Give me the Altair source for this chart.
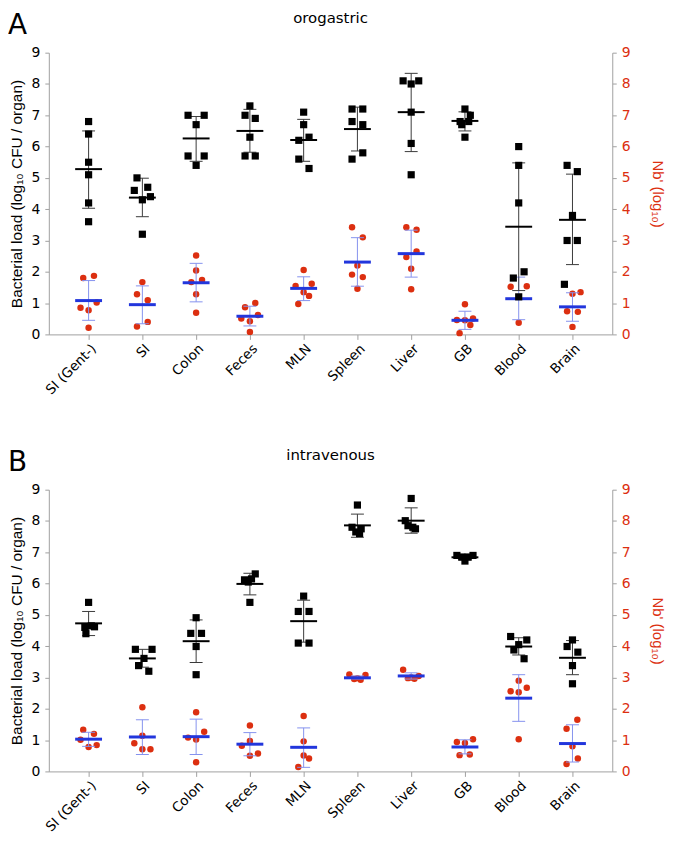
import altair as alt
import pandas as pd

categories = ["SI (Gent-)", "SI", "Colon", "Feces", "MLN", "Spleen", "Liver", "GB", "Blood", "Brain"]
y_ticks = list(range(10))

# ---------------- Panel A: orogastric ----------------
a_title = "orogastric"
a_load = [
    [6.8, 6.4, 5.5, 5.1, 4.2, 3.6],
    [5.0, 4.6, 4.7, 4.3, 4.4, 3.2],
    [7.0, 7.0, 6.7, 5.7, 5.7, 5.4],
    [7.3, 7.0, 6.9, 6.3, 5.7, 5.7],
    [7.1, 6.7, 6.2, 6.3, 5.6, 5.3],
    [7.2, 7.2, 6.8, 6.7, 5.8, 5.6],
    [8.1, 8.0, 8.1, 7.1, 6.1, 5.1],
    [7.2, 7.0, 6.8, 6.8, 6.7, 6.3],
    [6.0, 5.4, 4.2, 2.0, 1.8, 1.2],
    [5.4, 5.2, 3.8, 3.0, 3.0, 1.6],
]
a_load_jitter = [
    [0, 0, 0, 0, 0, 0],
    [-0.1, -0.15, 0.1, 0, 0.15, 0],
    [-0.15, 0.15, 0, -0.15, 0.15, 0],
    [0, -0.09, 0.1, 0, -0.09, 0.1],
    [0, 0, -0.09, 0.1, -0.09, 0.1],
    [-0.1, 0.1, -0.1, 0.1, 0.1, -0.1],
    [-0.15, 0, 0.14, 0, 0, 0],
    [0, 0.1, -0.09, 0.07, -0.06, 0],
    [0, 0, 0, 0.1, -0.1, 0],
    [-0.1, 0.09, 0, -0.1, 0.09, -0.15],
]
a_load_mean = [5.28, 4.37, 6.26, 6.50, 6.21, 6.56, 7.10, 6.82, 3.44, 3.66]
a_load_lo = [4.03, 3.76, 5.53, 5.82, 5.53, 5.86, 5.84, 6.50, 1.40, 2.23]
a_load_hi = [6.50, 4.99, 6.96, 7.19, 6.87, 7.26, 8.34, 7.11, 5.48, 5.12]

a_nb = [
    [1.80, 1.87, 0.85, 0.77, 1.02, 0.21],
    [1.67, 1.28, 1.09, 0.40, 0.25],
    [2.52, 2.04, 1.67, 1.74, 1.28, 0.69],
    [0.87, 1.00, 0.51, 0.42, 0.62, 0.08],
    [2.06, 1.55, 1.62, 1.35, 1.23, 0.97],
    [3.42, 3.10, 2.20, 1.91, 1.83, 1.46],
    [3.42, 3.34, 2.65, 2.47, 2.10, 1.44],
    [0.96, 0.46, 0.45, 0.51, 0.30, 0.04],
    [1.52, 1.54, 0.37],
    [1.30, 1.35, 0.74, 0.72, 0.24],
]
a_nb_jitter = [
    [-0.1, 0.1, -0.15, 0, 0.15, 0],
    [0, -0.1, 0.1, 0.1, -0.1],
    [0, 0, -0.09, 0.11, 0, 0],
    [-0.09, 0.1, -0.16, 0, 0.15, 0],
    [0, -0.15, 0.15, 0, 0.1, -0.1],
    [-0.1, 0.1, 0, -0.1, 0.1, 0],
    [-0.09, 0.1, 0.1, -0.09, 0, 0],
    [0, -0.15, 0, 0.15, 0.1, -0.1],
    [-0.15, 0.15, 0],
    [0, 0.15, -0.1, 0.1, 0],
]
a_nb_mean = [1.08, 0.95, 1.65, 0.58, 1.47, 2.31, 2.58, 0.45, 1.14, 0.88]
a_nb_lo = [0.45, 0.34, 1.04, 0.27, 1.08, 1.54, 1.83, 0.16, 0.47, 0.42]
a_nb_hi = [1.72, 1.55, 2.27, 0.90, 1.84, 3.09, 3.33, 0.74, 1.83, 1.33]

# ---------------- Panel B: intravenous ----------------
b_title = "intravenous"
b_load = [
    [5.40, 4.60, 4.62, 4.40, 4.65],
    [3.90, 3.90, 3.61, 3.38, 3.20],
    [4.91, 4.41, 4.41, 3.99, 3.09],
    [6.31, 6.12, 6.15, 6.05, 5.40],
    [5.60, 5.11, 5.11, 4.10, 4.10],
    [8.51, 7.80, 7.75, 7.60, 7.65],
    [8.72, 8.01, 7.85, 7.75, 7.80],
    [6.90, 6.90, 6.85, 6.85, 6.72],
    [4.31, 4.20, 4.05, 3.88, 3.60],
    [4.20, 3.99, 3.81, 3.38, 2.80],
]
b_load_jitter = [
    [0, -0.07, 0.11, -0.05, 0.05],
    [-0.13, 0.18, 0.03, -0.07, 0.12],
    [0, -0.1, 0.1, 0, 0],
    [0.1, -0.1, 0.03, -0.03, 0],
    [0, -0.1, 0.1, -0.1, 0.1],
    [0, -0.1, 0.07, 0.04, -0.03],
    [0, -0.11, -0.06, 0.08, 0.03],
    [-0.15, 0.15, -0.06, 0.06, 0],
    [-0.15, 0.15, 0, -0.09, 0.1],
    [0, -0.1, 0.1, 0, 0],
]
b_load_mean = [4.73, 3.61, 4.16, 5.99, 4.80, 7.86, 8.01, 6.84, 3.99, 3.63]
b_load_lo = [4.34, 3.33, 3.48, 5.64, 4.13, 7.48, 7.61, 6.75, 3.72, 3.09]
b_load_hi = [5.11, 3.90, 4.84, 6.33, 5.47, 8.22, 8.42, 6.93, 4.27, 4.18]

b_nb = [
    [1.33, 1.20, 1.01, 0.78, 0.84],
    [2.05, 1.14, 0.90, 0.71, 0.71],
    [1.89, 1.27, 1.08, 1.02, 0.29],
    [1.47, 0.97, 0.82, 0.57, 0.50],
    [1.77, 0.96, 0.51, 0.41, 0.14],
    [3.10, 3.08, 2.95, 2.93, 2.98],
    [3.25, 3.05, 2.98, 2.96, 3.00],
    [0.94, 0.91, 1.03, 0.52, 0.54],
    [2.90, 2.56, 2.53, 2.67, 1.03],
    [1.65, 1.36, 0.80, 0.41, 0.24],
]
b_nb_jitter = [
    [-0.1, 0.1, -0.15, 0, 0.15],
    [0, 0, -0.15, 0, 0.15],
    [0, 0.15, -0.15, 0, 0],
    [0, 0, -0.15, 0.15, 0],
    [0, 0, 0, 0.1, -0.1],
    [-0.15, 0.15, -0.06, 0.06, 0],
    [-0.15, 0.14, -0.06, 0.06, 0],
    [-0.15, 0, 0.15, -0.1, 0.09],
    [0, -0.15, 0, 0.15, 0],
    [0.09, -0.11, 0, 0.1, -0.11],
]
b_nb_mean = [1.03, 1.10, 1.11, 0.87, 0.77, 2.99, 3.05, 0.78, 2.34, 0.89]
b_nb_lo = [0.80, 0.54, 0.54, 0.50, 0.13, 2.95, 2.95, 0.56, 1.60, 0.30]
b_nb_hi = [1.25, 1.65, 1.67, 1.24, 1.39, 3.05, 3.15, 1.01, 3.09, 1.49]

WIDE = "DejaVu Sans"
ARIAL = "Liberation Sans"
RED = "#dc2f10"
BLUE = "#2236dc"
LIGHT_BLUE = "#8592ee"
AXIS_GRAY = "#a0a0a0"
W, H = 566, 283


def points_df(vals, jit):
    rows = []
    for i, (vs, js) in enumerate(zip(vals, jit)):
        for v, j in zip(vs, js):
            rows.append({"x": i + j, "v": v})
    return pd.DataFrame(rows)


def summary_df(mean, lo, hi):
    return pd.DataFrame({"x": list(range(len(mean))), "m": mean, "lo": lo, "hi": hi})


label_expr = "[" + ",".join("'" + c + "'" for c in categories) + "][datum.value]"
x_scale = alt.Scale(domain=[-0.74, len(categories) - 1 + 0.74], nice=False, zero=False)
x_axis = alt.Axis(values=list(range(len(categories))), labelExpr=label_expr, labelAngle=-45,
                  title=None, grid=False, domainColor=AXIS_GRAY, tickColor=AXIS_GRAY, tickSize=5,
                  labelFontSize=13.5, labelColor="black", labelPadding=2, labelFont=WIDE)
y_scale = alt.Scale(domain=[0, 9], nice=False, zero=False)


def X():
    return alt.X("x:Q", scale=x_scale, axis=x_axis)


def series_layers(pts, summ, color, bar_color, mean_color, mean_thick, axis, square):
    if square:
        pmark = alt.Chart(pts).mark_point(shape="square", filled=True, size=52, color=color, opacity=1)
    else:
        pmark = alt.Chart(pts).mark_circle(size=42, color=color, opacity=1)
    pts_layer = pmark.encode(x=X(), y=alt.Y("v:Q", scale=y_scale, axis=axis))
    base = alt.Chart(summ)
    rule = base.mark_rule(color=bar_color, strokeWidth=1, opacity=1).encode(
        x=X(), y=alt.Y("lo:Q", scale=y_scale, axis=axis), y2="hi:Q")
    cap_lo = base.mark_tick(orient="horizontal", size=13, thickness=1, color=bar_color, opacity=1).encode(
        x=X(), y=alt.Y("lo:Q", scale=y_scale, axis=axis))
    cap_hi = base.mark_tick(orient="horizontal", size=13, thickness=1, color=bar_color, opacity=1).encode(
        x=X(), y=alt.Y("hi:Q", scale=y_scale, axis=axis))
    mean = base.mark_tick(orient="horizontal", size=27, thickness=mean_thick, color=mean_color,
                          opacity=1).encode(x=X(), y=alt.Y("m:Q", scale=y_scale, axis=axis))
    if square:
        return alt.layer(rule, cap_lo, cap_hi, mean, pts_layer)
    return alt.layer(pts_layer, rule, cap_lo, cap_hi, mean)


left_axis = alt.Axis(values=y_ticks, title="Bacterial load (log₁₀ CFU / organ)", orient="left",
                     grid=False, domainColor=AXIS_GRAY, tickColor=AXIS_GRAY, tickSize=4,
                     labelPadding=5, labelFontSize=14, labelColor="black", titleFontSize=15.5,
                     titleFontWeight="normal", titleColor="black", titlePadding=7,
                     labelFont=WIDE, titleFont=ARIAL)
right_axis = alt.Axis(values=y_ticks, title="Nb' (log₁₀)", orient="right",
                      grid=False, domainColor=AXIS_GRAY, tickColor=AXIS_GRAY, tickSize=4,
                      labelPadding=5, labelFontSize=14, labelColor=RED, titleFontSize=15,
                      titleFontWeight="normal", titleColor=RED, titlePadding=20,
                      labelFont=WIDE, titleFont=ARIAL)


def panel(letter, title, load, load_j, lm, llo, lhi, nb, nb_j, nm, nlo, nhi):
    red = series_layers(points_df(nb, nb_j), summary_df(nm, nlo, nhi), RED, LIGHT_BLUE, BLUE, 3,
                        right_axis, False)
    black = series_layers(points_df(load, load_j), summary_df(lm, llo, lhi), "black", "#3a3a3a",
                          "black", 2, left_axis, True)
    one = alt.Data(values=[{"k": 1}])
    letter_txt = alt.Chart(one).mark_text(text=letter, fontSize=28, font=WIDE, align="left",
                                          baseline="alphabetic", color="black").encode(
        x=alt.value(-41), y=alt.value(-19))
    title_txt = alt.Chart(one).mark_text(text=title, fontSize=15, font=WIDE, align="center",
                                         baseline="alphabetic", color="black").encode(
        x=alt.value(W / 2), y=alt.value(-30))
    return alt.layer(red, black, letter_txt, title_txt).resolve_scale(y="independent").properties(
        width=W, height=H)


chart_a = panel("A", a_title, a_load, a_load_jitter, a_load_mean, a_load_lo, a_load_hi,
                a_nb, a_nb_jitter, a_nb_mean, a_nb_lo, a_nb_hi)
chart_b = panel("B", b_title, b_load, b_load_jitter, b_load_mean, b_load_lo, b_load_hi,
                b_nb, b_nb_jitter, b_nb_mean, b_nb_lo, b_nb_hi)

chart = alt.vconcat(chart_a, chart_b, spacing=51).properties(
    padding={"top": 1, "left": 0, "right": 4, "bottom": 0}).configure(
    font=ARIAL).configure_view(stroke=None)

chart.save("out.html", embed_options={"renderer": "svg", "actions": False})
